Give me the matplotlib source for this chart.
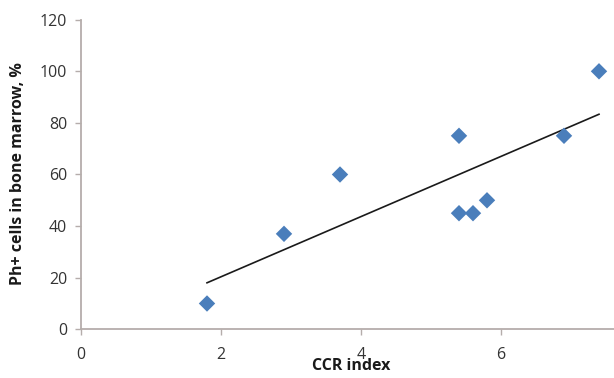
import matplotlib.pyplot as plt
import numpy as np

plt.rcParams['font.family'] = ['Open Sans', 'DejaVu Sans']

# CCR index vs Ph+ cells in bone marrow
ccr_index = [1.8, 2.9, 3.7, 5.4, 5.4, 5.6, 5.8, 6.9, 7.4]
ph_cells = [10, 37, 60, 75, 45, 45, 50, 75, 100]

x_ticks = [0, 2, 4, 6]
y_ticks = [0, 20, 40, 60, 80, 100, 120]

axis_grey = '#b5adab'
text_grey = '#333333'

fig = plt.figure(figsize=(6.14, 3.78), dpi=100)
# axes run past the right edge, so the 8 tick falls outside the figure
ax = fig.add_axes([81 / 614, 48.7 / 378, 560 / 614, 309.6 / 378])

ax.scatter(ccr_index, ph_cells, marker='D', s=70, color='#4a7ebb',
           edgecolors='none', zorder=3)

# linear trend line over the data range
slope, intercept = np.polyfit(ccr_index, ph_cells, 1)
xs = np.array([min(ccr_index), max(ccr_index)])
ax.plot(xs, slope * xs + intercept, color='#1a1a1a', lw=1.2, zorder=2)

ax.set_xlim(0, 8)
ax.set_ylim(0, 120)
ax.set_xticks(x_ticks)
ax.set_yticks(y_ticks)

for side in ['top', 'right']:
    ax.spines[side].set_visible(False)
for side in ['left', 'bottom']:
    ax.spines[side].set_color(axis_grey)
    ax.spines[side].set_linewidth(1.3)

ax.tick_params(axis='both', colors=axis_grey, length=4, width=1,
               labelcolor=text_grey, labelsize=11.5)
ax.tick_params(axis='x', pad=9)
ax.tick_params(axis='y', pad=6)

fig.text(351 / 614, 1 - 366 / 378, 'CCR index', ha='center', va='center',
         fontsize=11.5, fontweight='bold', color='#1a1a1a')
fig.text(18 / 614, 1 - 174 / 378, 'Ph+ cells in bone marrow, %', ha='center',
         va='center', rotation=90, fontsize=11.5, fontweight='bold',
         color='#1a1a1a')

fig.savefig('out.png', dpi=100)
